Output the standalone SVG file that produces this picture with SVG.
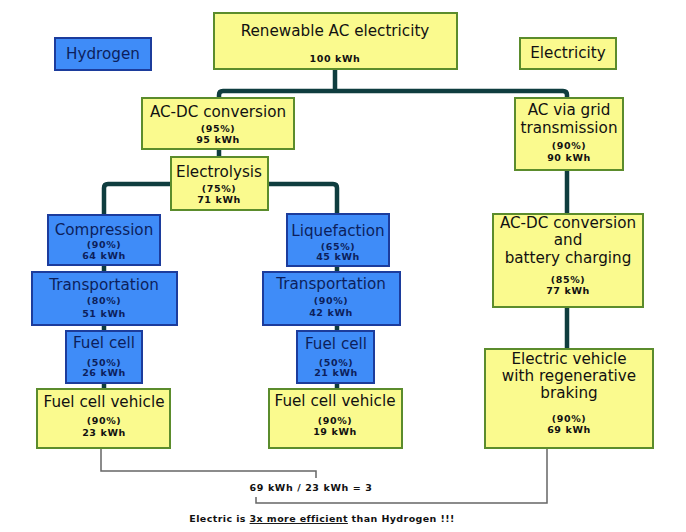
<svg xmlns="http://www.w3.org/2000/svg" width="686" height="532" viewBox="0 0 686 532">
<style>
.y{fill:#fafa8e;stroke:#5b8c2c;stroke-width:2}
.b{fill:#3f8cf8;stroke:#1c3c9c;stroke-width:2}
.t{font-family:"DejaVu Sans",Verdana,sans-serif;font-size:15.2px;text-anchor:middle;fill:#111}
.n{font-family:"DejaVu Sans",Verdana,sans-serif;font-size:9.5px;font-weight:bold;text-anchor:middle;fill:#111;letter-spacing:0.6px}
.bt .t,.bt .n{fill:#0c1f5c}
.c{fill:none;stroke:#0f3d3f;stroke-width:4.5;stroke-linejoin:round}
.g{fill:none;stroke:#666;stroke-width:1.5}
</style>
<rect width="686" height="532" fill="#fff"/>
<g id="connectors">
<path class="c" d="M335,69 V91 M219,157 V95 Q219,91 223,91 H563 Q567,91 567,95 V349"/>
<path class="c" d="M104,389 V188 Q104,184 108,184 H333 Q337,184 337,188 V389"/>
<path class="g" d="M101,449 V471 H316 V478"/>
<path class="g" d="M547,449 V503 H256 V497"/>
</g>
<g id="renewable">
<rect class="y" x="214" y="13" width="243" height="56"/>
<text class="t" x="335" y="36">Renewable AC electricity</text>
<text class="n" x="335" y="62">100 kWh</text>
</g>
<g id="hydrogen" class="bt">
<rect class="b" x="55" y="38" width="96" height="32"/>
<text class="t" x="103" y="59">Hydrogen</text>
</g>
<g id="electricity">
<rect class="y" x="520" y="38" width="96" height="31"/>
<text class="t" x="568" y="58">Electricity</text>
</g>
<g id="acdc">
<rect class="y" x="142" y="98" width="152" height="51"/>
<text class="t" x="218" y="117">AC-DC conversion</text>
<text class="n" x="218" y="132">(95%)</text>
<text class="n" x="218" y="143">95 kWh</text>
</g>
<g id="electrolysis">
<rect class="y" x="171" y="157" width="97" height="53"/>
<text class="t" x="219" y="177">Electrolysis</text>
<text class="n" x="219" y="192">(75%)</text>
<text class="n" x="219" y="203">71 kWh</text>
</g>
<g id="grid">
<rect class="y" x="515" y="98" width="108" height="72"/>
<text class="t" x="569" y="115">AC via grid</text>
<text class="t" x="569" y="133">transmission</text>
<text class="n" x="569" y="149">(90%)</text>
<text class="n" x="569" y="161">90 kWh</text>
</g>
<g id="compression" class="bt">
<rect class="b" x="48" y="215" width="112" height="50"/>
<text class="t" x="104" y="235">Compression</text>
<text class="n" x="104" y="248">(90%)</text>
<text class="n" x="104" y="259">64 kWh</text>
</g>
<g id="transport-left" class="bt">
<rect class="b" x="32" y="272" width="145" height="53"/>
<text class="t" x="104" y="290">Transportation</text>
<text class="n" x="104" y="304">(80%)</text>
<text class="n" x="104" y="317">51 kWh</text>
</g>
<g id="fuelcell-left" class="bt">
<rect class="b" x="66" y="331" width="76" height="52"/>
<text class="t" x="104" y="348">Fuel cell</text>
<text class="n" x="104" y="366">(50%)</text>
<text class="n" x="104" y="376">26 kWh</text>
</g>
<g id="fcv-left">
<rect class="y" x="37" y="389" width="133" height="59"/>
<text class="t" x="104" y="407">Fuel cell vehicle</text>
<text class="n" x="104" y="424">(90%)</text>
<text class="n" x="104" y="436">23 kWh</text>
</g>
<g id="liquefaction" class="bt">
<rect class="b" x="287" y="214" width="102" height="52"/>
<text class="t" x="338" y="236">Liquefaction</text>
<text class="n" x="338" y="250">(65%)</text>
<text class="n" x="338" y="260">45 kWh</text>
</g>
<g id="transport-right" class="bt">
<rect class="b" x="263" y="272" width="137" height="53"/>
<text class="t" x="331" y="289">Transportation</text>
<text class="n" x="331" y="304">(90%)</text>
<text class="n" x="331" y="316">42 kWh</text>
</g>
<g id="fuelcell-right" class="bt">
<rect class="b" x="297" y="331" width="77" height="52"/>
<text class="t" x="336" y="349">Fuel cell</text>
<text class="n" x="336" y="366">(50%)</text>
<text class="n" x="336" y="376">21 kWh</text>
</g>
<g id="fcv-right">
<rect class="y" x="269" y="389" width="133" height="59"/>
<text class="t" x="335" y="406">Fuel cell vehicle</text>
<text class="n" x="335" y="424">(90%)</text>
<text class="n" x="335" y="435">19 kWh</text>
</g>
<g id="battery">
<rect class="y" x="493" y="214" width="150" height="93"/>
<text class="t" x="568" y="228">AC-DC conversion</text>
<text class="t" x="568" y="245">and</text>
<text class="t" x="568" y="263">battery charging</text>
<text class="n" x="568" y="283">(85%)</text>
<text class="n" x="568" y="294">77 kWh</text>
</g>
<g id="ev">
<rect class="y" x="485" y="349" width="168" height="99"/>
<text class="t" x="569" y="364">Electric vehicle</text>
<text class="t" x="569" y="381">with regenerative</text>
<text class="t" x="569" y="398">braking</text>
<text class="n" x="569" y="422">(90%)</text>
<text class="n" x="569" y="433">69 kWh</text>
</g>
<g id="ratio">
<text class="n" x="311" y="491">69 kWh / 23 kWh = 3</text>
</g>
<g id="conclusion">
<text class="n" x="322" y="522" style="letter-spacing:0.4px">Electric is <tspan text-decoration="underline">3x more efficient</tspan> than Hydrogen !!!</text>
</g>
</svg>
